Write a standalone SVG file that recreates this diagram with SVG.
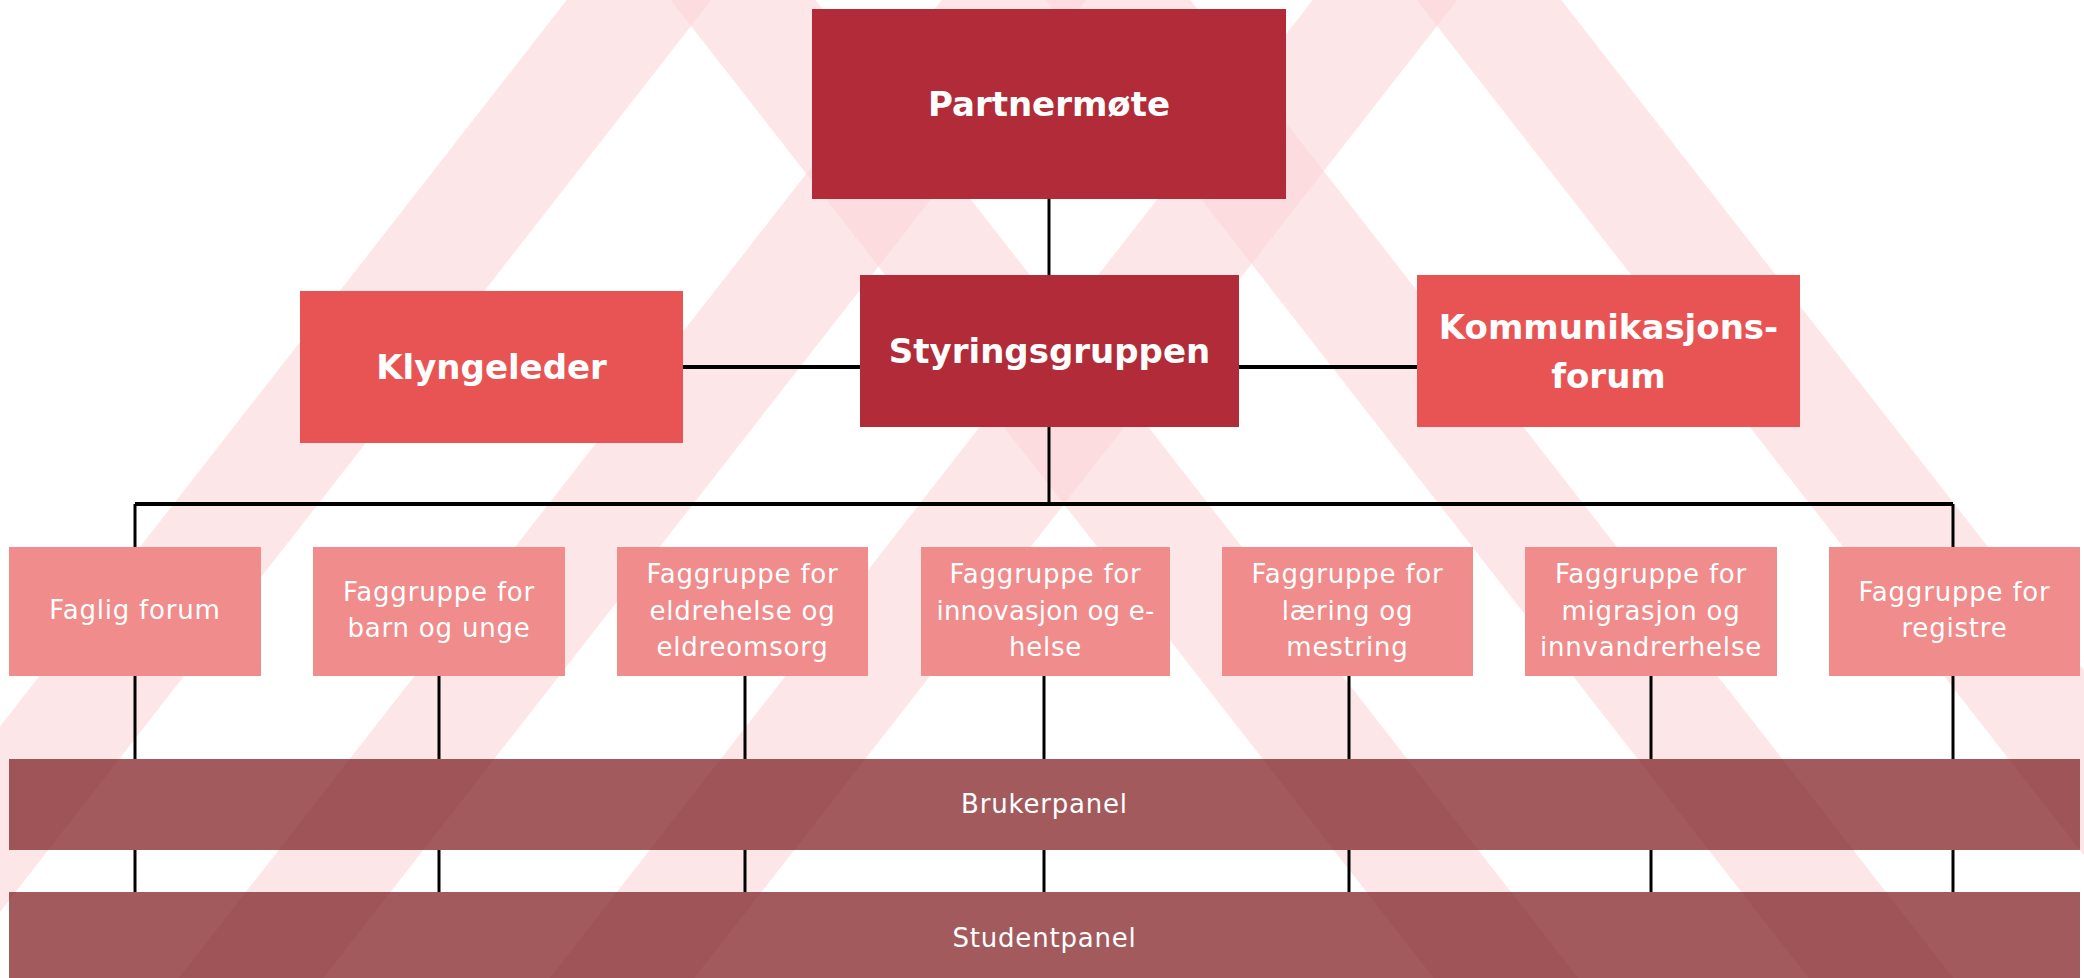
<svg xmlns="http://www.w3.org/2000/svg" width="2084" height="978" viewBox="0 0 2084 978">
<style>
.t{font-family:"DejaVu Sans","Liberation Sans",sans-serif;fill:#fff;text-anchor:middle}
.big{font-size:34px;font-weight:700}
.sm{font-size:26px;letter-spacing:0.8px}
.dark{fill:#B12C38}
.mid{fill:#E85454}
.light{fill:#F08C8B}
.panel{fill:#A35A5C}
.ln{stroke:#000;stroke-width:3;fill:none}
.thick{stroke-width:4}
</style>
<defs>
<g id="stripes" stroke-width="114" fill="none">
<line x1="834" y1="-250" x2="-219" y2="1100"/>
<line x1="548" y1="-250" x2="1601" y2="1100"/>
<line x1="1209" y1="-250" x2="156" y2="1100"/>
<line x1="923" y1="-250" x2="1976" y2="1100"/>
<line x1="1580" y1="-250" x2="527" y2="1100"/>
<line x1="1294" y1="-250" x2="2347" y2="1100"/>
</g>
<clipPath id="pc"><rect x="9" y="759" width="2071" height="91"/><rect x="9" y="892" width="2071" height="92"/></clipPath>
</defs>
<rect width="2084" height="978" fill="#fff"/>
<use href="#stripes" stroke="#FCD5D9" stroke-opacity="0.6"/>

<g id="connectors" class="ln">
<path d="M1049 199V275"/>
<path d="M1049 427V504"/>
<path class="thick" d="M135 504H1953"/>
<path d="M135 504V547M1953 504V547"/>
<path class="thick" d="M683 367H860M1239 367H1417"/>
<path d="M135 676V759M439 676V759M745 676V759M1044 676V759M1349 676V759M1651 676V759M1953 676V759"/>
<path d="M135 850V892M439 850V892M745 850V892M1044 850V892M1349 850V892M1651 850V892M1953 850V892"/>
</g>

<g id="partnermote">
<rect class="dark" x="812" y="9" width="474" height="190"/>
<text class="t big" x="1049" y="116">Partnermøte</text>
</g>
<g id="styringsgruppen">
<rect class="dark" x="860" y="275" width="379" height="152"/>
<text class="t big" x="1049.5" y="363">Styringsgruppen</text>
</g>
<g id="klyngeleder">
<rect class="mid" x="300" y="291" width="383" height="152"/>
<text class="t big" x="491.5" y="379">Klyngeleder</text>
</g>
<g id="kommunikasjonsforum">
<rect class="mid" x="1417" y="275" width="383" height="152"/>
<text class="t big" x="1608.5" y="339">Kommunikasjons-</text>
<text class="t big" x="1608.5" y="388">forum</text>
</g>

<g id="faglig-forum">
<rect class="light" x="9" y="547" width="252" height="129"/>
<text class="t sm" x="135" y="619">Faglig forum</text>
</g>
<g id="fg-barn">
<rect class="light" x="313" y="547" width="252" height="129"/>
<text class="t sm" x="439" y="601">Faggruppe for</text>
<text class="t sm" x="439" y="637">barn og unge</text>
</g>
<g id="fg-eldre">
<rect class="light" x="617" y="547" width="251" height="129"/>
<text class="t sm" x="742.5" y="583">Faggruppe for</text>
<text class="t sm" x="742.5" y="620">eldrehelse og</text>
<text class="t sm" x="742.5" y="656">eldreomsorg</text>
</g>
<g id="fg-innovasjon">
<rect class="light" x="921" y="547" width="249" height="129"/>
<text class="t sm" x="1045.5" y="583">Faggruppe for</text>
<text class="t sm" x="1045.5" y="620" style="letter-spacing:0.2px">innovasjon og e-</text>
<text class="t sm" x="1045.5" y="656">helse</text>
</g>
<g id="fg-laering">
<rect class="light" x="1222" y="547" width="251" height="129"/>
<text class="t sm" x="1347.5" y="583">Faggruppe for</text>
<text class="t sm" x="1347.5" y="620">læring og</text>
<text class="t sm" x="1347.5" y="656">mestring</text>
</g>
<g id="fg-migrasjon">
<rect class="light" x="1525" y="547" width="252" height="129"/>
<text class="t sm" x="1651" y="583">Faggruppe for</text>
<text class="t sm" x="1651" y="620">migrasjon og</text>
<text class="t sm" x="1651" y="656">innvandrerhelse</text>
</g>
<g id="fg-registre">
<rect class="light" x="1829" y="547" width="251" height="129"/>
<text class="t sm" x="1954.5" y="601">Faggruppe for</text>
<text class="t sm" x="1954.5" y="637">registre</text>
</g>

<g id="brukerpanel">
<rect class="panel" x="9" y="759" width="2071" height="91"/>
</g>
<g id="studentpanel">
<rect class="panel" x="9" y="892" width="2071" height="92"/>
</g>
<use href="#stripes" stroke="#5A0010" stroke-opacity="0.05" clip-path="url(#pc)"/>
<text class="t sm" x="1044.5" y="813">Brukerpanel</text>
<text class="t sm" x="1044.5" y="947">Studentpanel</text>
</svg>
